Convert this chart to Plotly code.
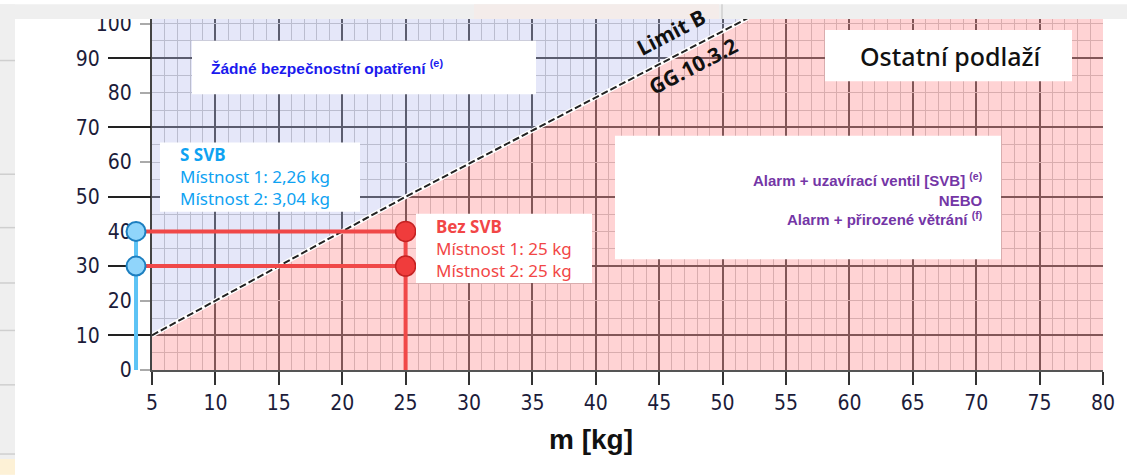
import plotly.graph_objects as go

# ---------------- data ----------------
x_tick_vals = [5, 10, 15, 20, 25, 30, 35, 40, 45, 50, 55, 60, 65, 70, 75, 80]
y_tick_even = [0, 20, 40, 60, 80, 100]
y_tick_odd = [10, 30, 50, 70, 90]
y_minor_vals = [5, 15, 25, 35, 45, 55, 65, 75, 85, 95]

limit_m = [5, 25, 52]          # Limit B (GG.10.3.2) line, m [kg]
limit_y = [10, 50, 101.6]

rooms = ["Místnost 1", "Místnost 2"]
room_y = [40, 30]          # level on the y axis for each room
svb_kg = [2.26, 3.04]      # S SVB
bez_svb_kg = [25, 25]      # Bez SVB
svb_marker_m = [3.74, 3.74]  # where the S SVB markers are drawn (left of axis)

X_MIN, X_MAX = 5, 80
Y_MIN, Y_MAX = 0, 101.3

# ---------------- layout geometry (pixels) ----------------
W, H = 1127, 476
ML, MR, MT, MB = 100, 24, 15, 106
PW = W - ML - MR
PH = H - MT - MB


def px(x):
    return (x - ML) / PW


def py(y):
    return (H - MB - y) / PH


main_left = 152
ext_left = 120
kg_per_px = (X_MAX - X_MIN) / (ML + PW - main_left)
ext_min = X_MIN - (main_left - ext_left) * kg_per_px

fig = go.Figure()

# regions
pink_x = [X_MIN, *limit_m, X_MAX, X_MAX]
pink_y = [Y_MIN, *limit_y, limit_y[-1], Y_MIN]
fig.add_trace(go.Scatter(x=pink_x, y=pink_y, fill="toself", mode="none",
                         fillcolor="rgba(255,80,85,0.25)", hoverinfo="skip",
                         showlegend=False))
lav_x = [*limit_m, limit_m[0]]
lav_y = [*limit_y, limit_y[-1]]
fig.add_trace(go.Scatter(x=lav_x, y=lav_y, fill="toself", mode="none",
                         fillcolor="rgba(100,110,220,0.17)", hoverinfo="skip",
                         showlegend=False))

# limit line
fig.add_trace(go.Scatter(x=limit_m, y=limit_y, mode="lines",
                         line=dict(color="white", width=4.5),
                         hoverinfo="skip", showlegend=False))
fig.add_trace(go.Scatter(x=limit_m, y=limit_y, mode="lines",
                         line=dict(color="#222", width=2, dash="7px,3px"),
                         hoverinfo="skip", showlegend=False))

# dummy for overlay axis
fig.add_trace(go.Scatter(x=[None], y=[None], xaxis="x", yaxis="y2",
                         showlegend=False, hoverinfo="skip"))

# --- markers / guide lines on extended subplot ---
for i in range(len(rooms)):
    fig.add_trace(go.Scatter(x=[svb_marker_m[i], bez_svb_kg[i]],
                             y=[room_y[i], room_y[i]], mode="lines",
                             line=dict(color="#f04848", width=4),
                             xaxis="x3", yaxis="y3", hoverinfo="skip",
                             showlegend=False))
fig.add_trace(go.Scatter(x=[bez_svb_kg[0], bez_svb_kg[0]], y=[max(room_y), Y_MIN],
                         mode="lines", line=dict(color="#f04848", width=4),
                         xaxis="x3", yaxis="y3", hoverinfo="skip", showlegend=False))
fig.add_trace(go.Scatter(x=[svb_marker_m[0], svb_marker_m[0]], y=[max(room_y), Y_MIN],
                         mode="lines", line=dict(color="#5cc3f5", width=4),
                         xaxis="x3", yaxis="y3", hoverinfo="skip", showlegend=False))
fig.add_trace(go.Scatter(x=svb_marker_m, y=room_y, mode="markers",
                         marker=dict(size=19, color="#90d5fb",
                                     line=dict(color="#1d7fc0", width=2)),
                         xaxis="x3", yaxis="y3", cliponaxis=False,
                         text=[f"{r}: {v} kg" for r, v in zip(rooms, svb_kg)],
                         hoverinfo="text", showlegend=False))
fig.add_trace(go.Scatter(x=bez_svb_kg, y=room_y, mode="markers",
                         marker=dict(size=20, color="#f03c3c",
                                     line=dict(color="#c42222", width=1.5)),
                         xaxis="x3", yaxis="y3", cliponaxis=False,
                         text=[f"{r}: {v} kg" for r, v in zip(rooms, bez_svb_kg)],
                         hoverinfo="text", showlegend=False))

tick_font = dict(family="DejaVu Sans Condensed, Liberation Sans Narrow, sans-serif",
                 size=21, color="#1c1c3a")

shapes = []


def rect(x0, y0, x1, y1, color, layer="above"):
    shapes.append(dict(type="rect", xref="paper", yref="paper",
                       x0=px(x0), x1=px(x1), y0=py(y1), y1=py(y0),
                       fillcolor=color, line=dict(width=0), layer=layer))


def hline(x0, x1, y, color):
    shapes.append(dict(type="line", xref="paper", yref="paper",
                       x0=px(x0), x1=px(x1), y0=py(y), y1=py(y),
                       line=dict(color=color, width=1.5), layer="above"))


# page fragments around the screenshot
rect(0, 0, W, 15, "#efefef")
rect(474, 0, 719, 15, "#f4ecea")
shapes.append(dict(type="line", xref="paper", yref="paper", x0=px(722), x1=px(722),
                   y0=py(15), y1=py(0), line=dict(color="#cfcfcf", width=1.5),
                   layer="above"))
rect(0, 0, 15, 460, "#efefef")
rect(0, 460, 15, 476, "#fdf1d6")
for yy in [57, 172, 226, 282, 330, 385, 455]:
    hline(0, 15, yy, "#cfcfcf")

# white text boxes
rect(192, 37, 536, 91, "white")
rect(825, 26, 1072, 78, "white")
rect(615, 133, 1001, 258, "white")
rect(160, 140, 360, 210, "white")
rect(416, 212, 592, 282, "white")

annotations = []


def ann(text, x, y, xanchor="center", yanchor="middle", align="left", **font):
    annotations.append(dict(text=text, xref="paper", yref="paper", x=px(x), y=py(y),
                            xanchor=xanchor, yanchor=yanchor, align=align,
                            showarrow=False, font=font))


ann("<b>Žádné bezpečnostní opatření <sup>(e)</sup></b>", 209, 64, xanchor="left",
    family="Liberation Sans, Arial, sans-serif", size=15.5, color="#1a1aee")
ann("Ostatní podlaží", 950, 52, family="Noto Sans, sans-serif", size=25,
    color="#111", weight=500)
ann("<b>Alarm + uzavírací ventil [SVB] <sup>(e)</sup><br>NEBO<br>"
    "Alarm + přirozené větrání <sup>(f)</sup></b>", 984, 197, xanchor="right",
    align="right", family="Liberation Sans, Arial, sans-serif", size=15, color="#7436a6")
ann("<b>S SVB</b><br>" + "<br>".join(f"{r}: {str(v).replace('.', ',')} kg"
                                      for r, v in zip(rooms, svb_kg)),
    178, 174, xanchor="left", family="Noto Sans, sans-serif", size=17, color="#0ea2f2")
ann("<b>Bez SVB</b><br>" + "<br>".join(f"{r}: {v} kg" for r, v in zip(rooms, bez_svb_kg)),
    434, 247, xanchor="left", family="Noto Sans, sans-serif", size=17, color="#f24646")
ann("<b>m [kg]</b>", 591, 440, family="Liberation Sans, Arial, sans-serif", size=28,
    color="#111")

angle = -27.5
annotations.append(dict(text="<b>Limit B</b>", xref="paper", yref="paper", x=px(671), y=py(28),
                        xanchor="center", yanchor="middle", textangle=angle,
                        showarrow=False,
                        font=dict(family="Open Sans, sans-serif", size=21, color="#111")))
annotations.append(dict(text="<b>GG.10.3.2</b>", xref="paper", yref="paper", x=px(693), y=py(63),
                        xanchor="center", yanchor="middle", textangle=angle,
                        showarrow=False,
                        font=dict(family="Open Sans, sans-serif", size=21, color="#111")))

main_dom = [px(main_left), 1]
ext_dom = [px(ext_left), 1]

fig.update_layout(
    width=W, height=H,
    margin=dict(l=ML, r=MR, t=MT, b=MB, pad=0),
    paper_bgcolor="white", plot_bgcolor="rgba(0,0,0,0)",
    showlegend=False,
    xaxis=dict(domain=main_dom, range=[X_MIN, X_MAX], tickvals=x_tick_vals,
               ticks="outside", ticklen=13, tickwidth=2, tickcolor="#333",
               tickfont=tick_font, showgrid=True, gridcolor="#595959", gridwidth=1.5,
               showline=True, linecolor="#555", linewidth=2, zeroline=False,
               anchor="y",
               minor=dict(dtick=1, tick0=0, showgrid=True, gridcolor="#cdcdcd",
                          gridwidth=1.2, ticks="")),
    yaxis=dict(domain=[0, 1], range=[Y_MIN, Y_MAX], tickvals=y_tick_even,
               ticks="outside", ticklen=10, tickwidth=1.5, tickcolor="#aaa",
               tickfont=tick_font, ticklabelstandoff=4, showgrid=True,
               gridcolor="#cdcdcd", gridwidth=1.2, zeroline=False,
               showline=True, linecolor="#444", linewidth=2, anchor="x",
               minor=dict(tickvals=y_minor_vals, showgrid=True, gridcolor="#cdcdcd",
                          gridwidth=1.2, ticks="")),
    yaxis2=dict(overlaying="y", anchor="x", side="left", range=[Y_MIN, Y_MAX],
                tickvals=y_tick_odd, ticks="outside", ticklen=43, tickwidth=2,
                tickcolor="#222", tickfont=tick_font, ticklabelstandoff=4,
                showgrid=True, gridcolor="#595959", gridwidth=1.5, zeroline=False,
                showline=False),
    xaxis3=dict(domain=ext_dom, range=[ext_min, X_MAX], visible=False, anchor="y3"),
    yaxis3=dict(domain=[0, 1], range=[Y_MIN, Y_MAX], visible=False, anchor="x3"),
    shapes=shapes,
    annotations=annotations,
)

fig.write_html(
    "out.html",
    config={"displayModeBar": False},
    post_script="document.documentElement.style.margin='0';"
                "document.body.style.margin='0';"
                "document.body.style.overflow='hidden';",
)
